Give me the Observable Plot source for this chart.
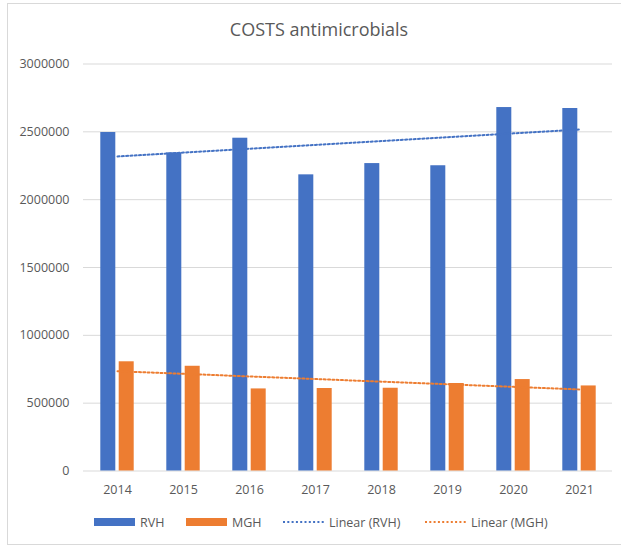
<!DOCTYPE html>
<html>
<head>
<meta charset="utf-8">
<script src="https://cdn.jsdelivr.net/npm/d3@7"></script>
<script src="https://cdn.jsdelivr.net/npm/@observablehq/plot@0.6"></script>
<style>
  html, body { margin: 0; padding: 0; background: #fff; }
  body { width: 621px; height: 546px; position: relative; overflow: hidden; font-family: "Open Sans", sans-serif; color: #595959; }
  .frame { position: absolute; left: 7px; top: 3px; width: 700px; height: 540px; border: 1px solid #d9d9d9; }
  .title { position: absolute; left: 17px; width: 604px; top: 17px; text-align: center; font-size: 18px; line-height: 24px; }
  #chart { position: absolute; left: 0; top: 45px; }
  .legend-item { position: absolute; top: 513px; height: 18px; display: flex; align-items: center; font-size: 12.5px; }
  .legend-item svg { margin-right: 5px; }
</style>
</head>
<body>
<div class="frame"></div>
<div class="title">COSTS antimicrobials</div>
<div id="chart"></div>
<div id="legend"></div>
<script>
// Annual antimicrobial costs per hospital
const years = ["2014", "2015", "2016", "2017", "2018", "2019", "2020", "2021"];
const rvh = [2495000, 2345000, 2453000, 2183000, 2266000, 2250000, 2679000, 2672000];
const mgh = [805000, 772000, 605000, 608000, 610000, 645000, 674000, 627000];
const yTicks = [0, 500000, 1000000, 1500000, 2000000, 2500000, 3000000];

const blue = "#4472C4";
const orange = "#ED7D31";
const dotted = "2,2.3";

// Least-squares line over the year index, evaluated at each year
function linearTrend(values) {
  const xs = values.map((_, i) => i);
  const mx = d3.mean(xs), my = d3.mean(values);
  const slope = d3.sum(xs, (x, i) => (x - mx) * (values[i] - my)) / d3.sum(xs, x => (x - mx) ** 2);
  return values.map((_, i) => ({year: years[i], value: my + slope * (i - mx)}));
}

const rows = values => values.map((v, i) => ({year: years[i], value: v}));

const chart = Plot.plot({
  width: 621,
  height: 460,
  marginLeft: 83,
  marginRight: 9,
  marginTop: 18.5,
  marginBottom: 34.5,
  style: {fontFamily: "'Open Sans', sans-serif", fontSize: "12.5px", color: "#595959", background: "transparent"},
  x: {type: "band", domain: years, padding: 0, tickSize: 0, tickPadding: 14, label: null},
  y: {domain: [0, 3000000], ticks: yTicks, tickFormat: d3.format("d"), tickSize: 0, tickPadding: 14, label: null},
  marks: [
    Plot.gridY(yTicks, {stroke: "#d9d9d9", strokeOpacity: 1, strokeWidth: 1}),
    Plot.barY(rows(rvh), {x: "year", y: "value", fill: blue, insetLeft: 25.5, insetRight: 25.5, dx: -9.2}),
    Plot.barY(rows(mgh), {x: "year", y: "value", fill: orange, insetLeft: 25.5, insetRight: 25.5, dx: 9.2}),
    Plot.lineY(linearTrend(rvh), {x: "year", y: "value", stroke: blue, strokeWidth: 2, strokeDasharray: dotted}),
    Plot.lineY(linearTrend(mgh), {x: "year", y: "value", stroke: orange, strokeWidth: 2, strokeDasharray: dotted})
  ]
});
document.getElementById("chart").appendChild(chart);

// Legend below the chart
const legendItems = [
  {label: "RVH", color: blue, kind: "bar", left: 94},
  {label: "MGH", color: orange, kind: "bar", left: 186},
  {label: "Linear (RVH)", color: blue, kind: "dots", left: 283},
  {label: "Linear (MGH)", color: orange, kind: "dots", left: 425}
];
const legend = d3.select("#legend");
for (const item of legendItems) {
  const div = legend.append("div").attr("class", "legend-item").style("left", item.left + "px");
  const sw = div.append("svg").attr("width", 41).attr("height", 10);
  if (item.kind === "bar") {
    sw.append("rect").attr("x", 0).attr("y", 1).attr("width", 41).attr("height", 8).attr("fill", item.color);
  } else {
    sw.append("line").attr("x1", 0).attr("x2", 41).attr("y1", 5).attr("y2", 5)
      .attr("stroke", item.color).attr("stroke-width", 2).attr("stroke-dasharray", dotted);
  }
  div.append("span").text(item.label);
}
</script>
</body>
</html>
